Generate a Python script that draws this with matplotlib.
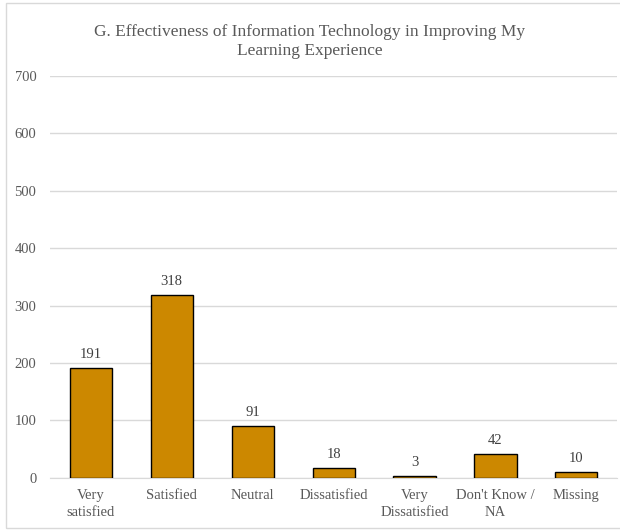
import matplotlib.pyplot as plt
from matplotlib.patches import Rectangle

categories = ["Very\nsatisfied", "Satisfied", "Neutral", "Dissatisfied",
              "Very\nDissatisfied", "Don't Know /\nNA", "Missing"]
counts = [191, 318, 91, 18, 3, 42, 10]
y_ticks = [0, 100, 200, 300, 400, 500, 600, 700]

TEXT = "#595959"
BAR = "#CC8800"

plt.rcParams["font.family"] = ["Liberation Serif", "DejaVu Serif"]

fig = plt.figure(figsize=(6.2, 5.31), dpi=100)
ax = fig.add_axes([0.081, 0.1, 0.914, 0.757])

x = range(len(categories))
bars = ax.bar(x, counts, width=0.52, color=BAR, edgecolor="black", linewidth=1.0, zorder=3)
for rect, v in zip(bars, counts):
    ax.text(rect.get_x() + rect.get_width() / 2, v + 12, str(v),
            ha="center", va="bottom", fontsize=10.5, color="#404040")

ax.set_xlim(-0.5, len(categories) - 0.5)
ax.set_ylim(0, 700)
ax.set_yticks(y_ticks)
ax.set_xticks(list(x), categories)
ax.tick_params(axis="both", length=0, labelsize=10.5, colors=TEXT)
ax.tick_params(axis="y", pad=10)
ax.tick_params(axis="x", pad=8)
for lbl in ax.get_xticklabels():
    lbl.set_linespacing(1.4)
ax.grid(axis="y", color="#d9d9d9", linewidth=1.0, zorder=0)
for side in ("top", "right", "left"):
    ax.spines[side].set_visible(False)
ax.spines["bottom"].set_color("#d9d9d9")

fig.text(0.5, 0.922, "G. Effectiveness of Information Technology in Improving My\nLearning Experience",
         ha="center", va="center", fontsize=12.5, color=TEXT, linespacing=1.3)

fig.patches.append(Rectangle((0.009, 0.006), 1.2, 0.988, transform=fig.transFigure,
                             fill=False, edgecolor="#d9d9d9", linewidth=1.0))

fig.savefig("out.png", dpi=100)
